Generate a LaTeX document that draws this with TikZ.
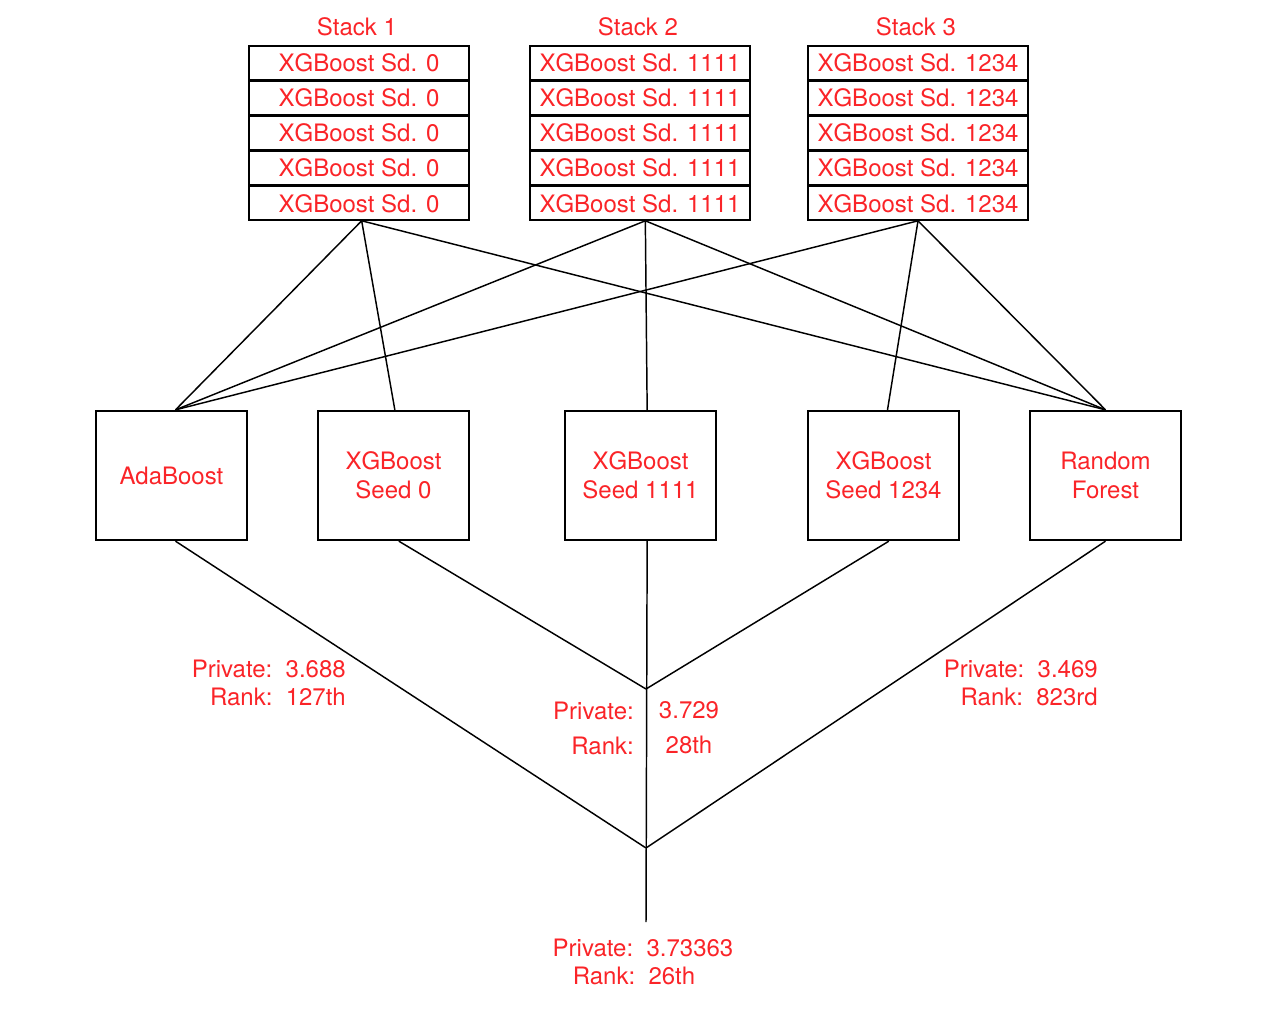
\documentclass[tikz,border=0pt]{standalone}
\usepackage{fontspec}
\setmainfont{TeX Gyre Heros}
\usetikzlibrary{positioning}
\definecolor{txtred}{RGB}{250,36,40}
\begin{document}
\begin{tikzpicture}
    [x=0.75pt,y=-0.75pt,
     every node/.style={font=\fontsize{18}{21.6}\selectfont, text=txtred},
     stackbox/.style={draw, line width=1.3pt, minimum width=165pt, minimum height=25pt, inner sep=0pt},
     model/.style={draw, line width=1.5pt, minimum width=113pt, minimum height=97pt, align=center},
     lbl/.style={inner sep=0pt},
     link/.style={line width=1.1pt}]
    \useasboundingbox (0,0) rectangle (1280,1024);
    % stack titles
    \node (t1) at (357,27){Stack 1};
    \node (t2) at (638,27){Stack 2};
    \node (t3) at (916,27){Stack 3};
    % stack 1
    \node[stackbox] (s1a) at (359,63){XGBoost Sd. 0};
    \node[stackbox, below=0pt of s1a] (s1b){XGBoost Sd. 0};
    \node[stackbox, below=0pt of s1b] (s1c){XGBoost Sd. 0};
    \node[stackbox, below=0pt of s1c] (s1d){XGBoost Sd. 0};
    \node[stackbox, below=0pt of s1d] (s1e){XGBoost Sd. 0};
    % stack 2
    \node[stackbox] (s2a) at (640,63){XGBoost Sd. 1111};
    \node[stackbox, below=0pt of s2a] (s2b){XGBoost Sd. 1111};
    \node[stackbox, below=0pt of s2b] (s2c){XGBoost Sd. 1111};
    \node[stackbox, below=0pt of s2c] (s2d){XGBoost Sd. 1111};
    \node[stackbox, below=0pt of s2d] (s2e){XGBoost Sd. 1111};
    % stack 3
    \node[stackbox] (s3a) at (918,63){XGBoost Sd. 1234};
    \node[stackbox, below=0pt of s3a] (s3b){XGBoost Sd. 1234};
    \node[stackbox, below=0pt of s3b] (s3c){XGBoost Sd. 1234};
    \node[stackbox, below=0pt of s3c] (s3d){XGBoost Sd. 1234};
    \node[stackbox, below=0pt of s3d] (s3e){XGBoost Sd. 1234};
    % models
    \node[model] (ada) at (171.5,475.5){AdaBoost};
    \node[model] (xg0) at (393.5,475.5){XGBoost\\Seed 0};
    \node[model] (xg1111) at (640.5,475.5){XGBoost\\Seed 1111};
    \node[model] (xg1234) at (883.5,475.5){XGBoost\\Seed 1234};
    \node[model] (rf) at (1105.5,475.5){Random\\Forest};
    % junctions
    \coordinate (j1) at (646,689);
    \coordinate (j2) at (646,848);
    \coordinate (fin) at (646,922);
    % stacks to models
    \draw[link] ([xshift=2pt]s1e.south) -- ([xshift=3pt]ada.north);
    \draw[link] ([xshift=2pt]s1e.south) -- ([xshift=1pt]xg0.north);
    \draw[link] ([xshift=2pt]s1e.south) -- (rf.north);
    \draw[link] ([xshift=4pt]s2e.south) -- ([xshift=3pt]ada.north);
    \draw[link] ([xshift=4pt]s2e.south) -- ([xshift=5pt]xg1111.north);
    \draw[link] ([xshift=4pt]s2e.south) -- (rf.north);
    \draw[link] (s3e.south) -- ([xshift=3pt]ada.north);
    \draw[link] (s3e.south) -- ([xshift=3pt]xg1234.north);
    \draw[link] (s3e.south) -- (rf.north);
    % models to blends
    \draw[link] ([xshift=3pt]ada.south) -- (j2);
    \draw[link] (rf.south) -- (j2);
    \draw[link] ([xshift=4pt]xg0.south) -- (j1);
    \draw[link] ([xshift=4pt]xg1234.south) -- (j1);
    \draw[link] ([xshift=5pt]xg1111.south) -- (fin);
    % scores
    \node[lbl, anchor=east, align=right] (sc1) at (346,683){Private:~~3.688\\Rank:~~127th};
    \node[lbl, anchor=east, align=right] (sc2l) at (634,728){Private:\\[4.6pt]Rank:};
    \node[lbl, align=center] (sc2r) at (689,728){3.729\\[4.6pt]28th};
    \node[lbl, anchor=east, align=right] (sc3) at (1098,683){Private:~~3.469\\Rank:~~823rd};
    \node[lbl, align=center] (sc4) at (643,962){Private:~~3.73363\\Rank:~~26th\rule{13.5pt}{0pt}};
\end{tikzpicture}
\end{document}
